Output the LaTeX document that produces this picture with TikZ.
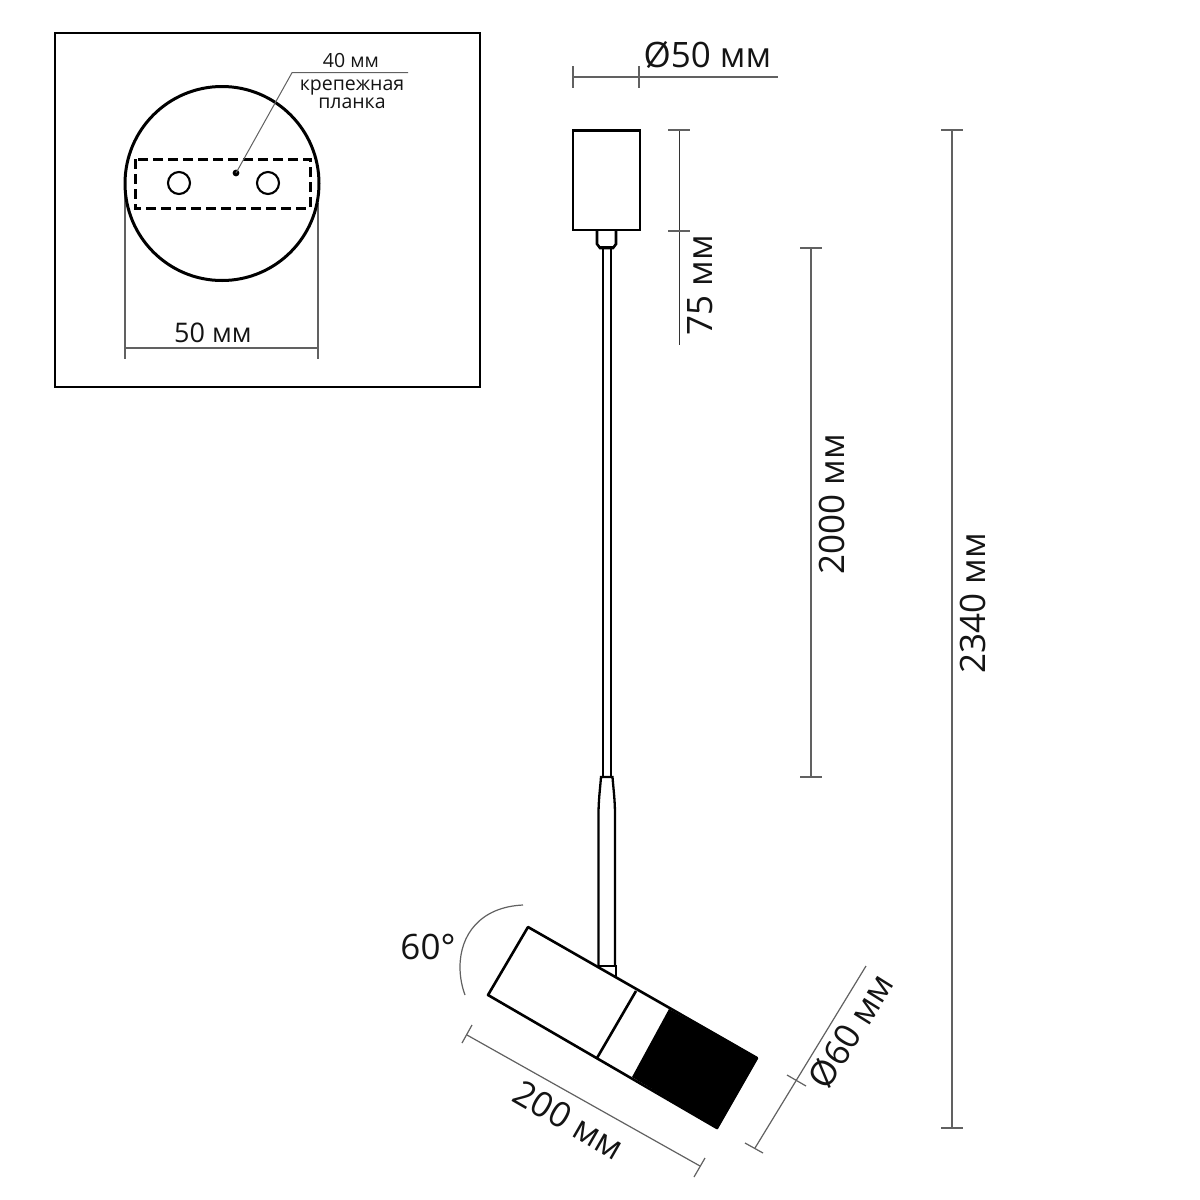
\documentclass[tikz,border=0pt]{standalone}
\usepackage{fontspec}
\setmainfont{Open Sans}
\tikzset{
  part/.style={draw=black,line width=2.6pt,line join=miter},
  thin part/.style={draw=black,line width=2.3pt},
  dim/.style={draw=black!62,line width=1.2pt},
  big/.style={font=\fontsize{35}{35}\selectfont,text=black!92,inner sep=0pt},
  mid/.style={font=\fontsize{27}{27}\selectfont,text=black!92,inner sep=0pt},
  small/.style={font=\fontsize{19.5}{19.5}\selectfont,text=black!92,inner sep=0pt},
}
\begin{document}
\begin{tikzpicture}[x=1pt,y=-1pt]
\useasboundingbox (0,0) rectangle (1200,1200);
\fill[white] (0,0) rectangle (1200,1200);
% inset
\draw[draw=black,line width=2.6pt] (55,33) rectangle (480,387);
\draw[dim] (125,190) -- (125,359);
\draw[dim] (318,203) -- (318,359);
\draw[dim] (125,348) -- (318,348);
\node[mid] (t50) at (213,333) {50 мм};
\draw[draw=black,line width=3pt] (222,183.5) circle (97);
\draw[draw=black,line width=3pt,dash pattern=on 10pt off 5pt] (135,159) rectangle (310,208);
\draw[draw=black,line width=2.1pt] (179,183) circle (11);
\draw[draw=black,line width=2.1pt] (268,183) circle (11);
\fill[black] (236,173) circle (3.4);
\coordinate (dot) at (236,173);
\draw[draw=black!62,line width=1pt] (dot) -- (292,72.7) -- (408,72.7);
\node[small] (t40) at (351,61) {40 мм};
\node[small] (tk) at (352,88) {крепежная};
\node[small] (tp) at (352,103) {планка};
% top dim
\draw[dim] (573,66) -- (573,88);
\draw[dim] (639,66) -- (639,88);
\draw[dim] (573,77) -- (778,77);
\node[big] (tphi) at (707.5,55) {Ø50 мм};
% canopy
\draw[part] (573,130.5) rectangle (640,230);
\draw[part] (597,230) -- (597,244) -- (600,248) -- (613,248) -- (616,244) -- (616,230);
\draw[part] (600,247) -- (613,247);
% rod
\draw[thin part] (603,248) -- (603,777);
\draw[thin part] (611,248) -- (611,777);
% sleeve
\draw[thin part,fill=white] (598.5,967) -- (598.5,815) .. controls (598.5,800) and (600,790) .. (601,777) -- (612.5,777) .. controls (613.5,790) and (615,800) .. (615,815) -- (615,967);
\draw[thin part,fill=white] (598,966) -- (616,966) -- (616,978);
% lamp
\fill[black] (669,1009) -- (757,1058) -- (717,1128) -- (632,1077) -- cycle;
\draw[part,line join=round] (528,927) -- (757,1058) -- (717,1128) -- (488,995) -- cycle;
\draw[part] (636,991) -- (597,1058);
% right dims
\draw[draw=black!80,line width=1pt] (679,130) -- (679,345);
\draw[dim] (668,130) -- (690,130);
\draw[dim] (668,231) -- (690,231);
\node[big,rotate=90] (t75) at (700,285) {75 мм};
\draw[dim] (811,248) -- (811,777);
\draw[dim] (800,248) -- (822,248);
\draw[dim] (800,777) -- (822,777);
\node[big,rotate=90] (t2000) at (832,504) {2000 мм};
\draw[dim] (952,130) -- (952,1128);
\draw[dim] (941,130) -- (963,130);
\draw[dim] (941,1128) -- (963,1128);
\node[big,rotate=90] (t2340) at (973,603) {2340 мм};
% angle
\draw[dim] (523,905) .. controls (480,907) and (460,935) .. (460,967) .. controls (460,977) and (462,987) .. (465,995);
\node[big] (t60) at (428,947) {60°};
% lamp dims
\draw[dim] (467,1035) -- (700,1166);
\draw[dim] (472,1025) -- (462,1043);
\draw[dim] (705,1158) -- (694,1177);
\node[big,rotate=-30] (t200) at (569,1120) {200 мм};
\draw[dim] (866,966) -- (755,1148);
\draw[dim] (745,1143) -- (763,1153);
\draw[dim] (787,1075) -- (806,1086);
\node[big,rotate=58] (t60d) at (851,1031) {Ø60 мм};
\end{tikzpicture}
\end{document}
